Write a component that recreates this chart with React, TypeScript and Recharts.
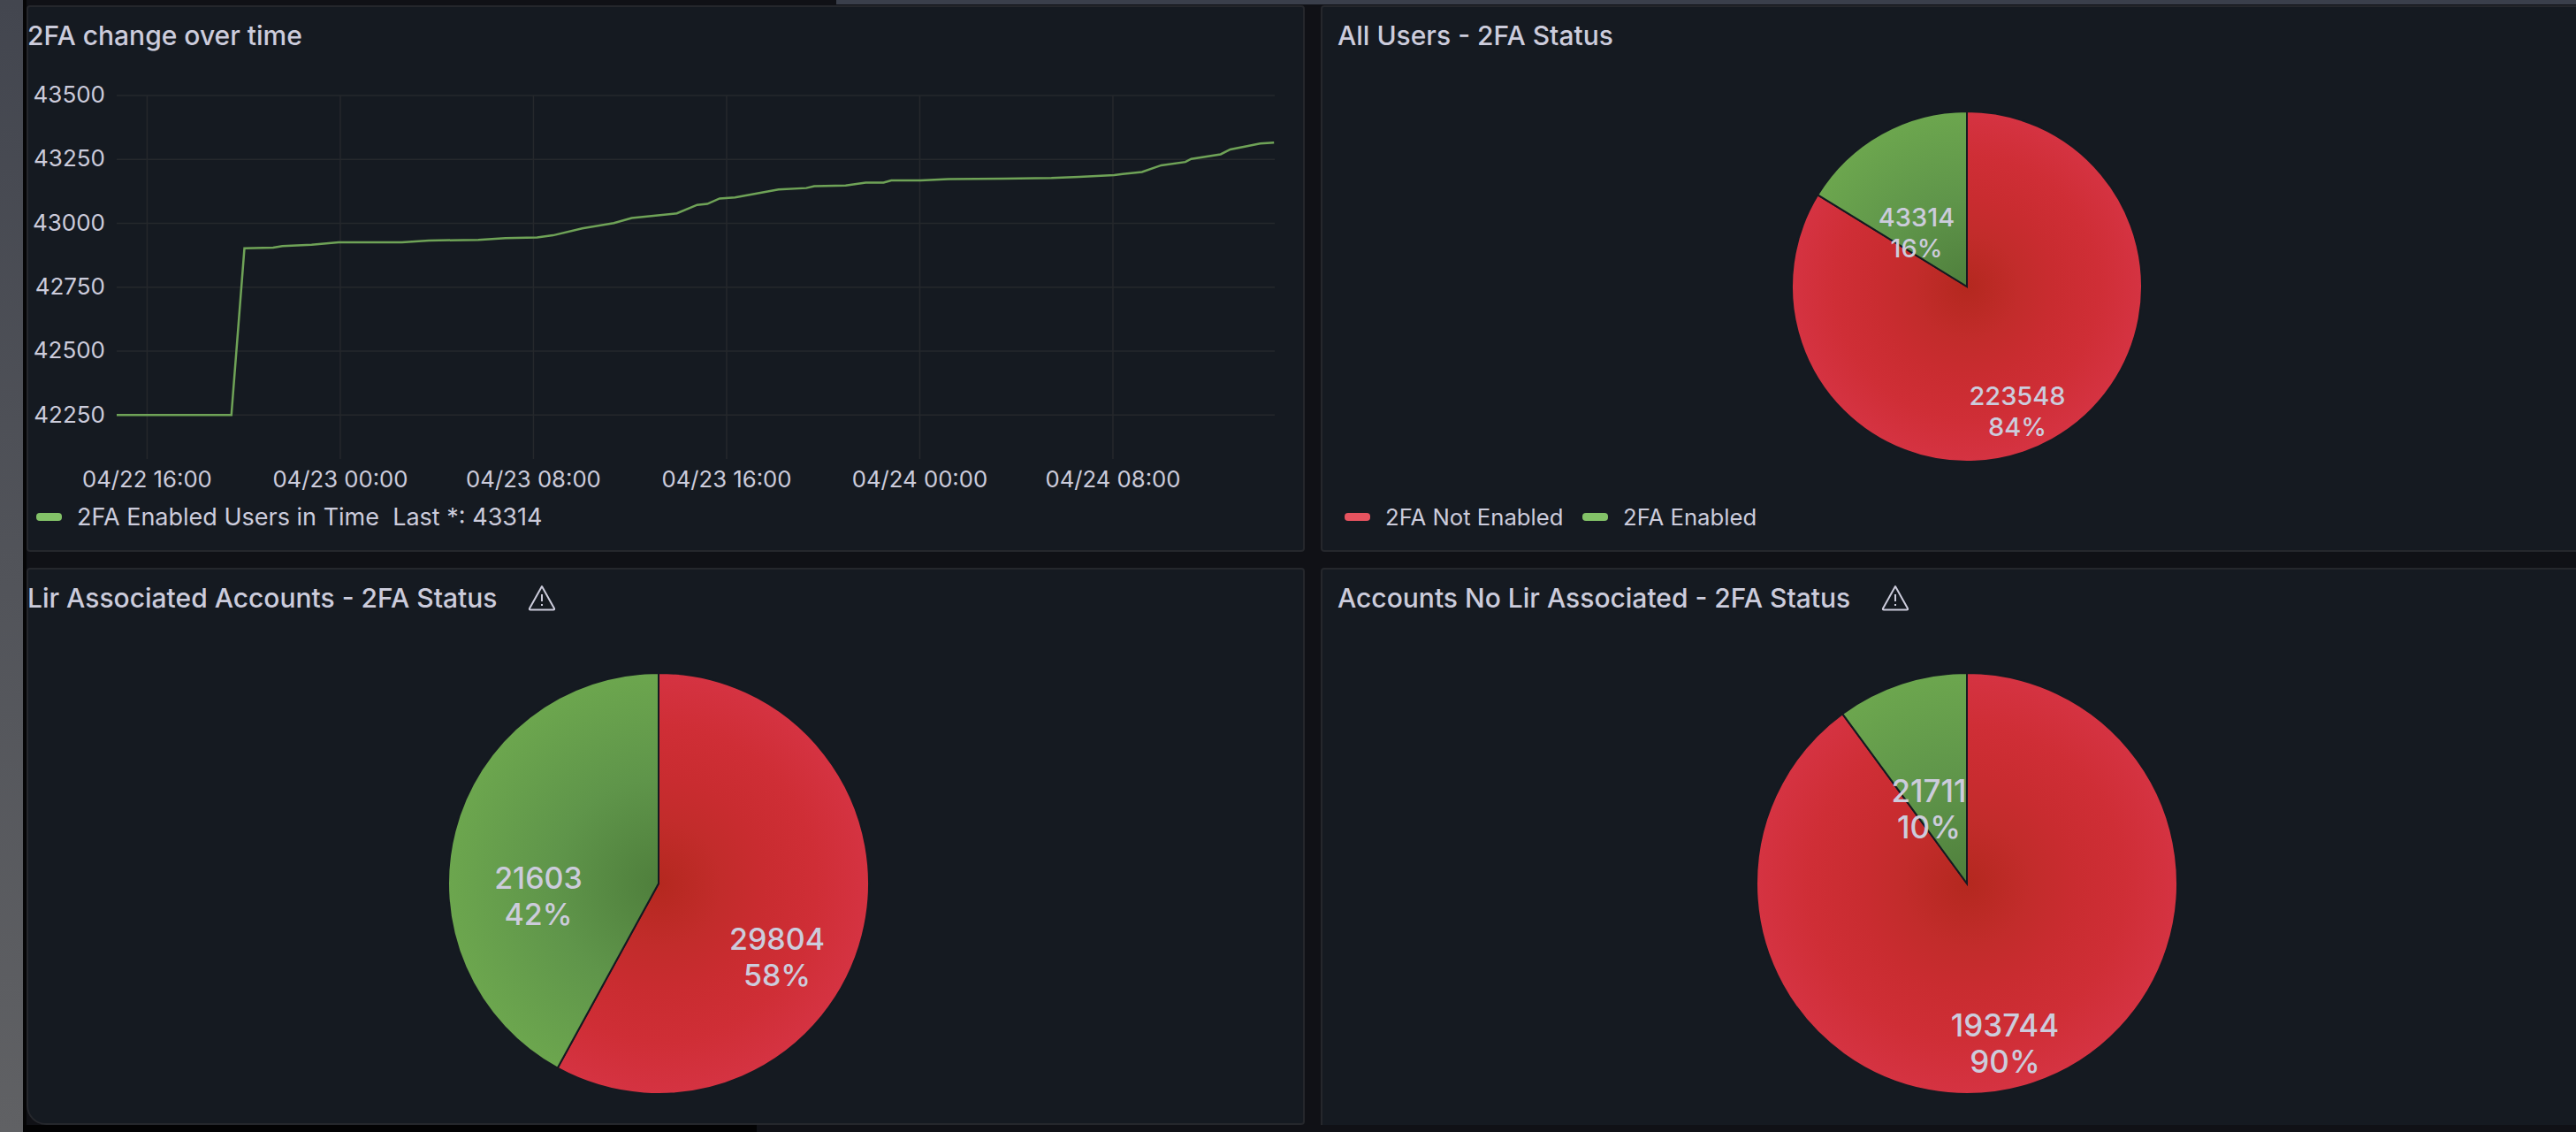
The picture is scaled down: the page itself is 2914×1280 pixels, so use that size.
import { CartesianGrid, Cell, Line, LineChart, Pie, PieChart, XAxis, YAxis } from "recharts"

const TEXT = "#ccccdc"
const FONT = "Inter, sans-serif"
const RED = "#e5535f"
const GREEN = "#83c268"
const PANEL_BG = "#151a21"

// hours since 04/22 16:00
const HOURS = [
  -1.26, 3.49, 4.03, 5.22, 5.6, 6.81, 7.93, 10.55, 11.67, 13.72, 14.84, 16.15, 16.81, 18.02, 19.33, 20.07, 21.94,
  22.78, 23.2, 23.71, 24.35, 26.15, 27.3, 27.63, 28.93, 29.76, 30.5, 30.82, 32.04, 33.18, 35.48, 37.45, 38.6, 40.05,
  41.2, 42.0, 43.0, 43.24, 44.46, 44.86, 45.6, 46.1, 46.67,
]
const ENABLED_USERS = [
  42250, 42250, 42902, 42905, 42911, 42916, 42926, 42926, 42933, 42935, 42942, 42945, 42953, 42980, 43001, 43021,
  43039, 43072, 43076, 43097, 43101, 43132, 43138, 43145, 43148, 43159, 43159, 43168, 43168, 43173, 43175, 43177,
  43182, 43189, 43201, 43227, 43240, 43252, 43270, 43289, 43303, 43312, 43316,
]
const Y_TICKS = [42250, 42500, 42750, 43000, 43250, 43500]
const X_TICKS = [0, 8, 16, 24, 32, 40]
const X_LABELS = ["04/22 16:00", "04/23 00:00", "04/23 08:00", "04/23 16:00", "04/24 00:00", "04/24 08:00"]

const SLICE_NAMES = ["2FA Not Enabled", "2FA Enabled"]
const ALL_USERS = [223548, 43314]
const ALL_USERS_PCT = ["84%", "16%"]
const LIR_ACCOUNTS = [29804, 21603]
const LIR_ACCOUNTS_PCT = ["58%", "42%"]
const NO_LIR_ACCOUNTS = [193744, 21711]
const NO_LIR_ACCOUNTS_PCT = ["90%", "10%"]

const lineData = HOURS.map((h, i) => ({ h, users: ENABLED_USERS[i] }))

function Panel({ x, y, w, h, title, warn, radius = "4px", children }: any) {
  return (
    <div
      style={{
        position: "absolute",
        left: x,
        top: y,
        width: w,
        height: h,
        boxSizing: "border-box",
        background: PANEL_BG,
        border: "2px solid #25272c",
        borderRadius: radius,
      }}
    >
      <div
        style={{
          position: "absolute",
          left: x < 100 ? -1 : 17,
          top: 13,
          fontSize: 30,
          lineHeight: "38px",
          fontWeight: 500,
          color: TEXT,
          whiteSpace: "nowrap",
        }}
      >
        {title}
        {warn && (
          <svg width={32} height={30} viewBox="0 0 32 30" style={{ position: "absolute", left: "100%", top: 4, marginLeft: 35 }}>
            <path d="M16 2 L30 27 Q30.500 28.500 29 28.500 L3 28.500 Q1.500 28.500 2 27 Z" fill="none" stroke={TEXT} strokeWidth={2} strokeLinejoin="round" />
            <path d="M16 11 L16 19 M16 22 L16 24" stroke={TEXT} strokeWidth={2} />
          </svg>
        )}
      </div>
      {children}
    </div>
  )
}

function LegendItem({ color, label, fontSize = 25.7, style }: any) {
  return (
    <div style={{ position: "absolute", display: "flex", alignItems: "center", fontSize, color: TEXT, whiteSpace: "pre", ...style }}>
      <span style={{ width: 29, height: 9, borderRadius: 4, background: color, marginRight: 17 }} />
      {label}
    </div>
  )
}

function TwoFaPie({ id, values, pcts, radius, fontSize, lineGap, cx, cy, labelOffsets, width, height }: any) {
  const data = values.map((value: number, i: number) => ({ name: SLICE_NAMES[i], value }))
  const renderLabel = (p: any) => {
    const [dx, dy] = labelOffsets[p.index]
    return (
      <text x={p.cx + dx} y={p.cy + dy} textAnchor="middle" fill={TEXT} fontSize={fontSize} fontWeight={500} fontFamily={FONT}>
        <tspan x={p.cx + dx} dy={-lineGap / 2 + fontSize * 0.36}>{values[p.index]}</tspan>
        <tspan x={p.cx + dx} dy={lineGap}>{pcts[p.index]}</tspan>
      </text>
    )
  }
  return (
    <PieChart width={width} height={height} margin={{ top: 0, right: 0, bottom: 0, left: 0 }}>
      <defs>
        <radialGradient id={`${id}-red`} gradientUnits="userSpaceOnUse" cx={cx} cy={cy} r={radius}>
          <stop offset="0%" stopColor="#b4281f" />
          <stop offset="30%" stopColor="#c22c2b" />
          <stop offset="50%" stopColor="#c92c30" />
          <stop offset="75%" stopColor="#cf2e36" />
          <stop offset="100%" stopColor="#d53342" />
        </radialGradient>
        <radialGradient id={`${id}-green`} gradientUnits="userSpaceOnUse" cx={cx} cy={cy} r={radius}>
          <stop offset="0%" stopColor="#4f7f3c" />
          <stop offset="50%" stopColor="#5f954a" />
          <stop offset="100%" stopColor="#6ca64e" />
        </radialGradient>
      </defs>
      <Pie
        data={data}
        dataKey="value"
        nameKey="name"
        cx={cx}
        cy={cy}
        innerRadius={0}
        outerRadius={radius}
        startAngle={90}
        endAngle={-270}
        stroke={PANEL_BG}
        strokeWidth={2}
        isAnimationActive={false}
        labelLine={false}
        label={renderLabel}
      >
        <Cell fill={`url(#${id}-red)`} />
        <Cell fill={`url(#${id}-green)`} />
      </Pie>
    </PieChart>
  )
}

export default function App() {
  return (
    <div style={{ position: "absolute", left: 0, top: 0, width: 2914, height: 1280, overflow: "hidden", background: "#101116", fontFamily: FONT }}>
      {/* window chrome around the dashboard */}
      <div style={{ position: "absolute", left: 26, top: 0, width: 4, height: 1280, background: "#050506" }} />
      <div style={{ position: "absolute", left: 0, top: 0, width: 26, height: 1280, background: "linear-gradient(#43464f, #606164)" }} />
      <div style={{ position: "absolute", left: 946, top: 0, width: 1968, height: 5, background: "#3a3f4b" }} />
      <div style={{ position: "absolute", left: 26, top: 1272, width: 830, height: 8, background: "#030304" }} />

      <Panel x={30} y={6} w={1446} h={618} title="2FA change over time">
        <div style={{ position: "absolute", left: 0, top: 0 }}>
          <LineChart width={1440} height={550} data={lineData} margin={{ top: 100, right: 30, bottom: 0, left: 0 }}>
            <CartesianGrid stroke="#25282c" strokeWidth={1.5} horizontalValues={Y_TICKS} verticalValues={X_TICKS} />
            <XAxis
              dataKey="h"
              type="number"
              domain={[-1.26, 46.7]}
              ticks={X_TICKS}
              tickFormatter={(v: number) => X_LABELS[X_TICKS.indexOf(v)]}
              tick={{ fontSize: 25.7, fill: TEXT, fontFamily: FONT }}
              tickLine={false}
              axisLine={false}
              tickMargin={8}
              interval={0}
              height={39}
            />
            <YAxis
              type="number"
              domain={[42078, 43500]}
              ticks={Y_TICKS}
              tick={{ fontSize: 26, fill: TEXT, fontFamily: FONT, dy: -1 }}
              tickLine={false}
              axisLine={false}
              tickMargin={7}
              width={100}
              interval={0}
              allowDataOverflow
            />
            <Line dataKey="users" type="linear" stroke="#6fa357" strokeWidth={2.5} dot={false} isAnimationActive={false} />
          </LineChart>
        </div>
        <LegendItem color={GREEN} fontSize={27} label="2FA Enabled Users in Time  Last *: 43314" style={{ left: 9, top: 560 }} />
      </Panel>

      <Panel x={1494} y={6} w={1440} h={618} title="All Users - 2FA Status">
        <TwoFaPie
          id="all"
          values={ALL_USERS}
          pcts={ALL_USERS_PCT}
          radius={198}
          fontSize={29}
          lineGap={35}
          cx={729}
          cy={316}
          width={1400}
          height={540}
          labelOffsets={[[57, 141], [-57, -61]]}
        />
        <LegendItem color={RED} label={SLICE_NAMES[0]} style={{ left: 25, top: 561 }} />
        <LegendItem color={GREEN} label={SLICE_NAMES[1]} style={{ left: 294, top: 561 }} />
      </Panel>

      <Panel x={30} y={642} w={1446} h={630} radius="4px 4px 4px 22px" title="Lir Associated Accounts - 2FA Status" warn>
        <TwoFaPie
          id="lir"
          values={LIR_ACCOUNTS}
          pcts={LIR_ACCOUNTS_PCT}
          radius={238}
          fontSize={34}
          lineGap={41}
          cx={713}
          cy={355}
          width={1440}
          height={626}
          labelOffsets={[[134, 83], [-136, 14]]}
        />
      </Panel>

      <Panel x={1494} y={642} w={1440} h={650} title="Accounts No Lir Associated - 2FA Status" warn>
        <TwoFaPie
          id="nolir"
          values={NO_LIR_ACCOUNTS}
          pcts={NO_LIR_ACCOUNTS_PCT}
          radius={238}
          fontSize={35}
          lineGap={41}
          cx={729}
          cy={355}
          width={1400}
          height={626}
          labelOffsets={[[43, 181], [-43, -84]]}
        />
      </Panel>
      <div style={{ position: "absolute", left: 1476, top: 1272, width: 1438, height: 8, background: "#101116" }} />
    </div>
  )
}
